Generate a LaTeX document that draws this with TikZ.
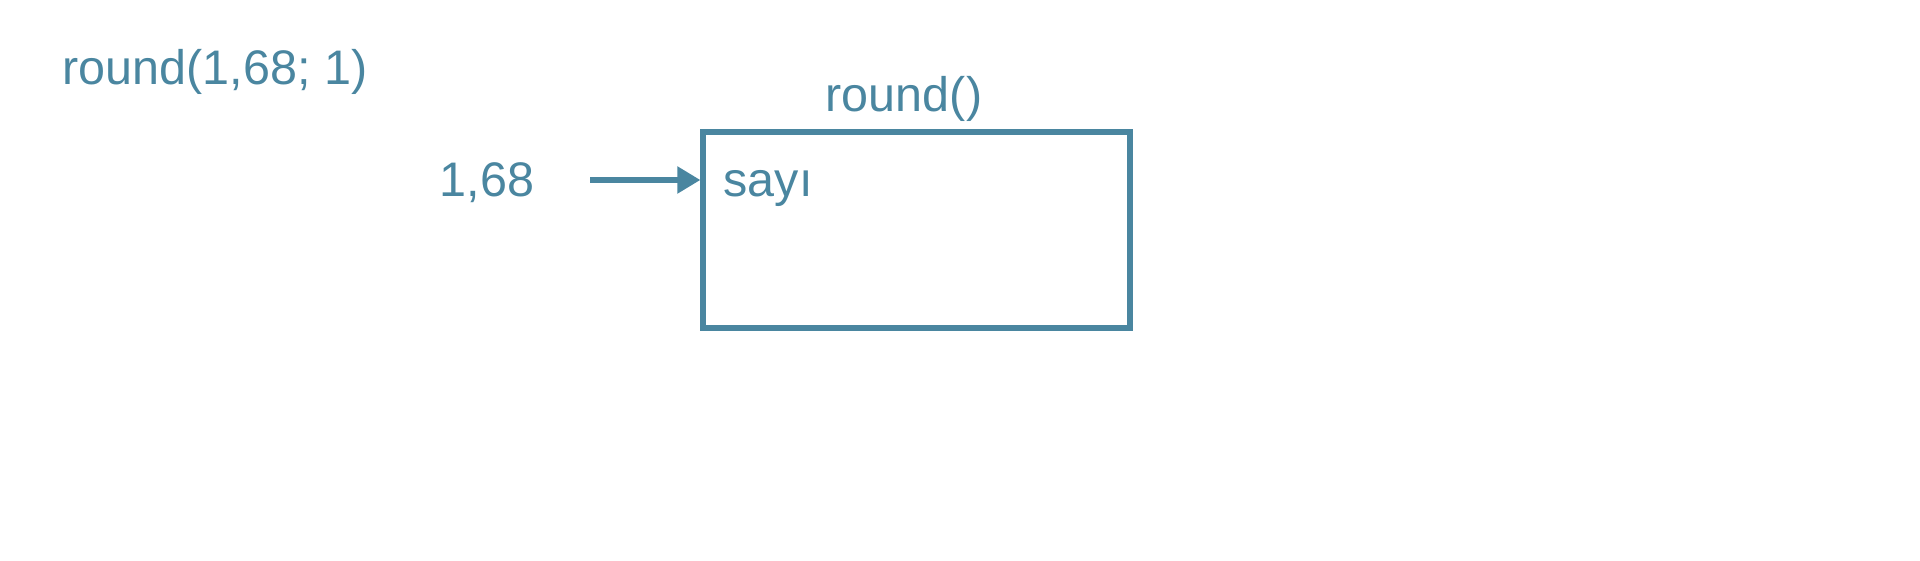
\documentclass[tikz,border=0pt]{standalone}
\usepackage{fontspec}
\setmainfont{Liberation Sans}
\usepackage{xcolor}
\usetikzlibrary{arrows.meta,positioning}
\definecolor{funcblue}{RGB}{74,134,160}

\begin{document}
\begin{tikzpicture}[every node/.style={text=funcblue, font=\fontsize{13.8}{16}\selectfont, inner sep=0pt},
  funcbox/.style={draw=funcblue, line width=1.5pt, minimum width=4.27cm, minimum height=1.96cm}]
\useasboundingbox (0,0) rectangle (19.2,5.6);
\node (call) [anchor=base west] at (0.62,4.75) {round(1,68; 1)};
\node (box) [funcbox] at (9.165,3.30) {};
\node (name) [anchor=base] at (9.04,4.48) {round()};
\node (value) [anchor=base east] at (5.35,3.63) {1,68};
\node (param) [anchor=base west] at (7.23,3.63) {sayı};
\coordinate (in) at (5.90,3.80);

\draw[funcblue, line width=1.5pt, -{Triangle[length=0.23cm,width=0.26cm]}] (in) -- (in -| box.west);
\end{tikzpicture}
\end{document}
